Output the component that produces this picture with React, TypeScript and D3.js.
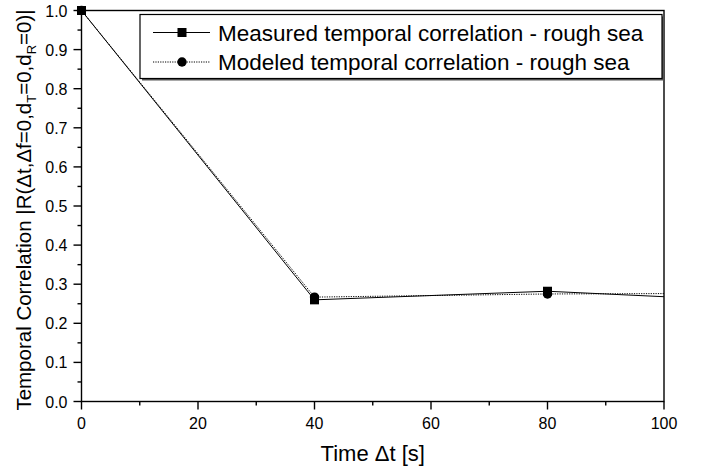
import React from "react";
import * as d3 from "d3";

const timeSteps = [0, 40, 80, 100];
const measured = [1.0, 0.26, 0.282, 0.268];
const modeled = [1.0, 0.267, 0.275, 0.276];
const markerCount = 3; // the series continue past 100 s, only the first three samples are inside
const xTicks = [0, 20, 40, 60, 80, 100];
const yTicks = [0, 0.1, 0.2, 0.3, 0.4, 0.5, 0.6, 0.7, 0.8, 0.9, 1.0];
const legendLabels = [
  "Measured temporal correlation - rough sea",
  "Modeled temporal correlation - rough sea",
];

const W = 712;
const H = 466;
const margin = { left: 81.5, right: 48, top: 10.5, bottom: 64.5 };

export default function App() {
  const x = d3.scaleLinear().domain([0, 100]).range([margin.left, W - margin.right]);
  const y = d3.scaleLinear().domain([0, 1]).range([H - margin.bottom, margin.top]);
  const font = "'Liberation Sans', Arial, sans-serif";

  const line = d3
    .line<number>()
    .x((_, i) => x(timeSteps[i]))
    .y((d) => y(d));

  const xMinor = d3.range(10, 100, 20);
  const yMinor = d3.range(0.05, 1, 0.1);
  const x0 = x(0), x1 = x(100), y0 = y(0), y1 = y(1);

  // legend
  const lg = { x: 140, y: 14.5, w: 522, h: 64 };
  const rows = [32.5, 62];

  return (
    <svg width={W} height={H} style={{ position: "absolute", left: 0, top: 0, background: "#fff" }}>
      <g fontFamily={font} fill="#000">
        {/* series */}
        <path d={line(modeled) ?? ""} fill="none" stroke="#000" strokeWidth={1} strokeDasharray="1.2,1.2" />
        <path d={line(measured) ?? ""} fill="none" stroke="#000" strokeWidth={1} />
        {modeled.slice(0, markerCount).map((v, i) => (
          <circle key={"c" + i} cx={x(timeSteps[i])} cy={y(v)} r={4.7} fill="#000" />
        ))}
        {measured.slice(0, markerCount).map((v, i) => (
          <rect key={"s" + i} x={x(timeSteps[i]) - 4.5} y={y(v) - 4.5} width={9} height={9} fill="#000" />
        ))}

        {/* frame */}
        <rect x={x0} y={y1} width={x1 - x0} height={y0 - y1} fill="none" stroke="#000" strokeWidth={1.4} />

        {/* x ticks */}
        {xTicks.map((t) => (
          <g key={"xt" + t}>
            <line x1={x(t)} x2={x(t)} y1={y0} y2={y0 + 8} stroke="#000" strokeWidth={1.4} />
            <text x={x(t)} y={429} fontSize={16} textAnchor="middle">{t}</text>
          </g>
        ))}
        {xMinor.map((t) => (
          <line key={"xm" + t} x1={x(t)} x2={x(t)} y1={y0} y2={y0 + 4} stroke="#000" strokeWidth={1.4} />
        ))}

        {/* y ticks */}
        {yTicks.map((t) => (
          <g key={"yt" + t}>
            <line x1={x0 - 8} x2={x0} y1={y(t)} y2={y(t)} stroke="#000" strokeWidth={1.4} />
            <text x={x0 - 14} y={y(t) + 6} fontSize={16} textAnchor="end">{t.toFixed(1)}</text>
          </g>
        ))}
        {yMinor.map((t) => (
          <line key={"ym" + t} x1={x0 - 4} x2={x0} y1={y(t)} y2={y(t)} stroke="#000" strokeWidth={1.4} />
        ))}

        {/* legend */}
        <rect x={lg.x + 2} y={lg.y + 2} width={lg.w} height={lg.h} fill="#555" />
        <rect x={lg.x} y={lg.y} width={lg.w} height={lg.h} fill="#fff" stroke="#000" strokeWidth={1.2} />
        <line x1={153} x2={210} y1={rows[0]} y2={rows[0]} stroke="#000" />
        <rect x={177.5} y={rows[0] - 4.5} width={9} height={9} fill="#000" />
        <text x={218} y={rows[0] + 8} fontSize={22.5}>{legendLabels[0]}</text>
        <line x1={153} x2={210} y1={rows[1]} y2={rows[1]} stroke="#000" strokeDasharray="1.2,1.2" />
        <circle cx={182} cy={rows[1]} r={4.7} fill="#000" />
        <text x={218} y={rows[1] + 8} fontSize={22.5}>{legendLabels[1]}</text>

        {/* axis titles */}
        <text x={(x0 + x1) / 2} y={461} fontSize={22} textAnchor="middle">Time Δt [s]</text>
        <text transform={`translate(31, ${(y0 + y1) / 2 + 4}) rotate(-90)`} fontSize={20.5} textAnchor="middle">
          Temporal Correlation |R(Δt,Δf=0,d<tspan fontSize={13} dy={5}>T</tspan>
          <tspan dy={-5}>=0,d</tspan><tspan fontSize={13} dy={5}>R</tspan><tspan dy={-5}>=0)|</tspan>
        </text>
      </g>
    </svg>
  );
}
